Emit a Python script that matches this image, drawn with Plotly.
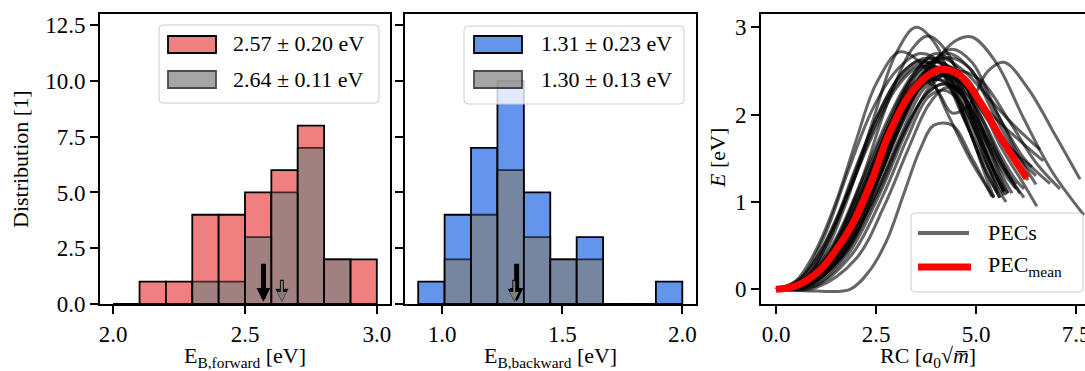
import plotly.graph_objects as go

W, H = 1085, 371

# ---------------- data ----------------
fwd_edges = [2.0, 2.1, 2.2, 2.3, 2.4, 2.5, 2.6, 2.7, 2.8, 2.9, 3.0]
fwd_counts_all = [0, 1, 1, 4, 4, 5, 6, 8, 2, 2]
fwd_counts_sub = [0, 0, 0, 1, 1, 3, 5, 7, 2, 0]

bwd_edges = [0.90, 1.01, 1.12, 1.23, 1.34, 1.45, 1.56, 1.67, 1.78, 1.89, 2.00]
bwd_counts_all = [1, 4, 7, 10, 5, 2, 3, 0, 0, 1]
bwd_counts_sub = [0, 2, 4, 6, 3, 2, 2, 0, 0, 0]

fwd_mean_all, fwd_std_all = 2.57, 0.20
fwd_mean_sub, fwd_std_sub = 2.64, 0.11
bwd_mean_all, bwd_std_all = 1.31, 0.23
bwd_mean_sub, bwd_std_sub = 1.30, 0.13

hist_yticks = [0.0, 2.5, 5.0, 7.5, 10.0, 12.5]
fwd_xticks = [2.0, 2.5, 3.0]
bwd_xticks = [1.0, 1.5, 2.0]
pec_xticks = [0.0, 2.5, 5.0, 7.5]
pec_yticks = [0, 1, 2, 3]

# potential energy curves (reaction coordinate, energy)
pec_rc = [
    [0, 0.6, 1.2, 1.8, 2.4, 3.0, 3.5, 4.0, 4.6, 5.2, 5.6],
    [0, 0.7, 1.4, 2.1, 2.8, 3.4, 3.8, 4.3, 4.9, 5.4, 5.75],
    [0, 0.5, 1.0, 1.5, 2.0, 2.5, 3.1, 3.7, 4.3, 4.9, 5.45],
    [0, 0.8, 1.6, 2.4, 3.2, 3.9, 4.5, 4.9, 5.5, 6.2, 6.9, 7.7],
    [0, 0.8, 1.6, 2.4, 3.1, 3.6, 4.0, 4.4, 4.8, 5.3, 5.7, 6.3, 7.0, 7.6],
    [0, 1.0, 1.85, 2.35, 2.77, 3.2, 3.6, 3.95, 4.4, 4.9, 5.4],
    [0, 0.7, 1.4, 2.1, 2.8, 3.4, 3.9, 4.4, 5.0, 5.5, 5.75],
    [0, 0.8, 1.5, 2.2, 2.9, 3.5, 4.0, 4.5, 5.1, 5.6, 5.8],
    [0, 0.7, 1.3, 1.9, 2.5, 3.1, 3.7, 4.2, 4.8, 5.3, 5.6],
    [0, 0.8, 1.6, 2.4, 3.1, 3.7, 4.2, 4.7, 5.3, 5.9, 6.2],
    [0, 0.6, 1.2, 1.8, 2.4, 3.0, 3.6, 4.1, 4.7, 5.3, 5.7],
    [0, 0.9, 1.7, 2.5, 3.2, 3.8, 4.3, 4.9, 5.6, 6.2, 6.52],
    [0, 0.8, 1.5, 2.2, 2.9, 3.5, 4.1, 4.7, 5.3, 5.9, 6.6],
    [0, 0.9, 1.7, 2.5, 3.2, 3.8, 4.3, 4.9, 5.5, 6.1, 6.68],
    [0, 0.8, 1.6, 2.4, 3.1, 3.7, 4.3, 4.9, 5.6, 6.2, 6.85],
    [0, 1.0, 1.8, 2.6, 3.3, 3.9, 4.5, 5.1, 5.8, 6.5, 7.1],
    [0, 0.7, 1.4, 2.1, 2.8, 3.4, 4.0, 4.6, 5.2, 5.8, 6.3],
    [0, 0.8, 1.6, 2.3, 3.0, 3.6, 4.1, 4.6, 5.2, 5.6, 6.0],
    [0, 0.9, 1.8, 2.6, 3.2, 3.7, 4.1, 4.5, 4.9, 5.2, 5.45],
    [0, 0.7, 1.3, 1.9, 2.5, 3.1, 3.6, 4.1, 4.7, 5.3, 5.7],
    [0, 0.8, 1.7, 2.6, 3.3, 3.9, 4.3, 4.8, 5.3, 5.8, 6.1],
    [0, 0.5, 1.0, 1.5, 2.0, 2.6, 3.2, 3.8, 4.4, 5.0, 5.5, 5.7],
    [0, 1.0, 2.0, 2.7, 3.3, 3.8, 4.2, 4.6, 5.1, 5.6, 6.0, 6.2],
    [0, 0.9, 1.7, 2.4, 3.0, 3.6, 4.2, 4.8, 5.4, 6.0, 6.5],
    [0, 0.7, 1.5, 2.3, 3.0, 3.6, 4.0, 4.5, 5.1, 5.5, 5.8],
    [0, 0.6, 1.2, 1.8, 2.4, 3.0, 3.6, 4.2, 4.8, 5.3, 5.55],
    [0, 0.9, 1.8, 2.6, 3.3, 3.9, 4.4, 4.9, 5.5, 6.1, 6.5],
    [0, 0.8, 1.6, 2.4, 3.1, 3.7, 4.2, 4.7, 5.2, 5.6, 5.9],
    [0, 0.7, 1.4, 2.1, 2.8, 3.4, 3.9, 4.4, 5.0, 5.6, 6.0],
    [0, 0.8, 1.6, 2.3, 3.0, 3.6, 4.1, 4.6, 5.3, 5.9, 6.4],
    [0, 1.0, 1.9, 2.7, 3.3, 3.8, 4.2, 4.6, 5.0, 5.4, 5.7],
    [0, 0.6, 1.3, 2.0, 2.7, 3.3, 3.9, 4.5, 5.1, 5.6, 5.9],
    [0, 0.8, 1.6, 2.4, 3.1, 3.7, 4.2, 4.8, 5.4, 6.0, 6.3],
]
pec_e = [
    [0, 0.08, 0.40, 1.05, 1.90, 2.70, 3.00, 2.80, 2.10, 1.40, 1.05],
    [0, 0.08, 0.45, 1.20, 2.15, 2.75, 2.90, 2.70, 2.00, 1.40, 1.08],
    [0, 0.10, 0.45, 1.00, 1.70, 2.35, 2.72, 2.55, 2.00, 1.45, 1.05],
    [0, 0.06, 0.40, 1.10, 1.95, 2.55, 2.85, 2.89, 2.60, 1.95, 1.35, 0.85],
    [0, 0.08, 0.50, 1.30, 2.10, 2.40, 2.30, 2.02, 2.10, 2.50, 2.60, 2.30, 1.75, 1.26],
    [0, -0.02, 0.00, 0.22, 0.56, 1.10, 1.60, 1.88, 1.88, 1.50, 1.06],
    [0, 0.10, 0.50, 1.20, 1.95, 2.45, 2.65, 2.50, 1.80, 1.20, 1.00],
    [0, 0.07, 0.45, 1.15, 1.95, 2.50, 2.70, 2.55, 1.90, 1.30, 1.10],
    [0, 0.12, 0.55, 1.20, 1.90, 2.40, 2.60, 2.45, 1.85, 1.30, 1.05],
    [0, 0.05, 0.35, 1.00, 1.75, 2.30, 2.45, 2.30, 1.75, 1.25, 1.05],
    [0, 0.12, 0.60, 1.35, 2.05, 2.50, 2.70, 2.60, 2.10, 1.50, 1.12],
    [0, 0.06, 0.45, 1.25, 2.00, 2.45, 2.55, 2.30, 1.65, 1.20, 0.95],
    [0, 0.10, 0.50, 1.20, 1.95, 2.45, 2.65, 2.50, 2.20, 1.90, 1.60],
    [0, 0.08, 0.50, 1.30, 2.00, 2.40, 2.45, 2.25, 1.95, 1.70, 1.47],
    [0, 0.07, 0.45, 1.20, 1.95, 2.50, 2.70, 2.50, 1.95, 1.50, 1.21],
    [0, 0.05, 0.40, 1.10, 1.85, 2.35, 2.50, 2.40, 1.95, 1.45, 1.15],
    [0, 0.08, 0.45, 1.10, 1.85, 2.35, 2.55, 2.40, 2.00, 1.60, 1.30],
    [0, 0.08, 0.50, 1.20, 1.90, 2.35, 2.40, 2.25, 1.80, 1.45, 1.20],
    [0, 0.05, 0.45, 1.30, 2.00, 2.35, 2.40, 2.20, 1.75, 1.35, 1.05],
    [0, 0.10, 0.55, 1.25, 1.95, 2.45, 2.62, 2.50, 1.95, 1.40, 1.08],
    [0, 0.05, 0.40, 1.15, 1.90, 2.30, 2.35, 2.15, 1.70, 1.30, 1.10],
    [0, 0.08, 0.35, 0.80, 1.40, 2.05, 2.50, 2.65, 2.45, 1.85, 1.30, 1.12],
    [0, 0.02, 0.35, 0.95, 1.60, 2.10, 2.30, 2.30, 2.00, 1.55, 1.25, 1.15],
    [0, 0.10, 0.55, 1.25, 1.90, 2.40, 2.65, 2.55, 2.05, 1.55, 1.30],
    [0, 0.06, 0.40, 1.10, 1.85, 2.35, 2.50, 2.35, 1.80, 1.35, 1.10],
    [0, 0.10, 0.50, 1.10, 1.75, 2.30, 2.55, 2.45, 1.95, 1.40, 1.10],
    [0, 0.07, 0.50, 1.30, 2.10, 2.60, 2.75, 2.60, 2.05, 1.50, 1.20],
    [0, 0.05, 0.35, 1.00, 1.70, 2.20, 2.35, 2.20, 1.75, 1.35, 1.10],
    [0, 0.07, 0.42, 1.05, 1.80, 2.30, 2.50, 2.38, 1.90, 1.40, 1.15],
    [0, 0.09, 0.50, 1.15, 1.85, 2.30, 2.45, 2.38, 1.95, 1.60, 1.40],
    [0, 0.04, 0.40, 1.10, 1.75, 2.20, 2.28, 2.15, 1.80, 1.40, 1.12],
    [0, 0.06, 0.40, 1.05, 1.80, 2.35, 2.60, 2.50, 2.00, 1.50, 1.25],
    [0, 0.06, 0.42, 1.10, 1.85, 2.40, 2.55, 2.40, 1.90, 1.45, 1.25],
]
mean_rc = [0, 0.5, 1.1, 1.5, 1.93, 2.4, 2.8, 3.3, 3.8, 4.15, 4.6, 5.1, 5.6, 6.27]
mean_e = [0, 0.04, 0.22, 0.45, 0.76, 1.25, 1.75, 2.2, 2.45, 2.52, 2.45, 2.15, 1.75, 1.27]

# ---------------- styles ----------------
FONT = "Liberation Serif"
FS = 22
TFS = 23
RED = "#F08080"
BLUE = "#6495ED"
GRAY = "rgb(128,128,128)"
LW = 1.8


def X(p):
    return p / W


def Y(p):
    return 1 - p / H


def centers(edges):
    return [(a + b) / 2 for a, b in zip(edges[:-1], edges[1:])]


def widths(edges):
    return [b - a for a, b in zip(edges[:-1], edges[1:])]


def label(m, s):
    return f"{m:.2f} ± {s:.2f} eV"


fig = go.Figure()

# histograms
for edges, counts, color, opac, xa, ya in [
    (fwd_edges, fwd_counts_all, RED, 1.0, "x", "y"),
    (fwd_edges, fwd_counts_sub, GRAY, 0.7, "x", "y"),
    (bwd_edges, bwd_counts_all, BLUE, 1.0, "x2", "y2"),
    (bwd_edges, bwd_counts_sub, GRAY, 0.7, "x2", "y2"),
]:
    fig.add_trace(go.Bar(
        x=centers(edges), y=counts, width=widths(edges),
        marker=dict(color=color, opacity=opac, line=dict(color="black", width=LW)),
        xaxis=xa, yaxis=ya, showlegend=False,
    ))

# PECs
for i, (rc, e) in enumerate(zip(pec_rc, pec_e)):
    fig.add_trace(go.Scatter(
        x=rc, y=e, mode="lines", name="PECs", showlegend=False,
        line=dict(color="rgba(0,0,0,0.6)", width=3, shape="spline", smoothing=1.0),
        xaxis="x3", yaxis="y3",
    ))
fig.add_trace(go.Scatter(
    x=mean_rc, y=mean_e, mode="lines", name="PEC mean", showlegend=False,
    line=dict(color="red", width=7, shape="spline", smoothing=1.0),
    xaxis="x3", yaxis="y3",
))

ax_common = dict(showline=True, linecolor="black", linewidth=LW, ticks="outside",
                 ticklen=8, tickwidth=LW, tickcolor="black", showgrid=False,
                 zeroline=False, automargin=False, ticklabeloverflow="allow",
                 tickfont=dict(family=FONT, size=TFS, color="black"))
ydom = [Y(304), Y(14)]

fig.update_layout(
    width=W, height=H, margin=dict(l=0, r=0, t=0, b=0, autoexpand=False),
    paper_bgcolor="white", plot_bgcolor="white", barmode="overlay",
    font=dict(family=FONT, size=FS, color="black"), showlegend=False,
    xaxis=dict(ax_common, domain=[X(100), X(390)], range=[1.95, 3.05], anchor="y",
               tickvals=fwd_xticks, tickformat=".1f", mirror=True),
    yaxis=dict(ax_common, domain=ydom, range=[0, 13], anchor="x",
               tickvals=hist_yticks, tickformat=".1f", mirror=True),
    xaxis2=dict(ax_common, domain=[X(405), X(696)], range=[0.845, 2.057], anchor="y2",
                tickvals=bwd_xticks, tickformat=".1f", mirror=True),
    yaxis2=dict(ax_common, domain=ydom, range=[0, 13], anchor="x2", matches="y",
                tickvals=hist_yticks, showticklabels=False, mirror=True),
    xaxis3=dict(ax_common, domain=[X(761), 1.0], range=[-0.375, 7.725], anchor="y3",
                tickvals=pec_xticks, tickformat=".1f", mirror=True),
    yaxis3=dict(ax_common, domain=ydom, range=[-0.168, 3.153], anchor="x3",
                tickvals=pec_yticks, tickformat="d", mirror=False),
)

annotations = []
shapes = []


def arrow(xv, y0, y1, xa, ya, color, width, size):
    return dict(x=xv, y=y1, ax=xv, ay=y0, xref=xa, yref=ya, axref=xa, ayref=ya,
                showarrow=True, arrowhead=2, arrowwidth=width, arrowsize=size,
                arrowcolor=color, text="")


for m_all, m_sub, xa, ya in [(fwd_mean_all, fwd_mean_sub, "x", "y"),
                             (bwd_mean_all, bwd_mean_sub, "x2", "y2")]:
    annotations.append(arrow(m_all, 1.87, 0.10, xa, ya, "black", 5, 0.55))
    annotations.append(arrow(m_sub, 1.15, 0.10, xa, ya, "rgba(0,0,0,0.85)", 4, 0.65))
    annotations.append(arrow(m_sub, 1.10, 0.14, xa, ya, "rgb(125,125,125)", 2, 0.9))


def rbox(x0, y0, x1, y1, r=4):
    p = (f"M {X(x0 + r)},{Y(y0)} L {X(x1 - r)},{Y(y0)} Q {X(x1)},{Y(y0)} {X(x1)},{Y(y0 + r)} "
         f"L {X(x1)},{Y(y1 - r)} Q {X(x1)},{Y(y1)} {X(x1 - r)},{Y(y1)} "
         f"L {X(x0 + r)},{Y(y1)} Q {X(x0)},{Y(y1)} {X(x0)},{Y(y1 - r)} "
         f"L {X(x0)},{Y(y0 + r)} Q {X(x0)},{Y(y0)} {X(x0 + r)},{Y(y0)} Z")
    return dict(type="path", path=p, xref="paper", yref="paper",
                fillcolor="rgba(255,255,255,0.8)",
                line=dict(color="rgb(204,204,204)", width=1), layer="above")


def patch(x0, y0, x1, y1, color, opac):
    return dict(type="rect", x0=X(x0), x1=X(x1), y0=Y(y1), y1=Y(y0), xref="paper", yref="paper",
                fillcolor=color, opacity=opac, line=dict(color="black", width=LW), layer="above")


def text(x, y, s, anchor="left", angle=0):
    return dict(x=X(x), y=Y(y), xref="paper", yref="paper", text=s, showarrow=False,
                xanchor=anchor, yanchor="middle", textangle=angle,
                font=dict(family=FONT, size=FS, color="black"))


# legend 1
shapes.append(rbox(159, 25, 379, 103))
shapes.append(patch(168, 36, 216, 53, RED, 1.0))
shapes.append(patch(168, 71, 216, 88, GRAY, 0.7))
annotations.append(text(231, 44, label(fwd_mean_all, fwd_std_all)))
annotations.append(text(231, 79, label(fwd_mean_sub, fwd_std_sub)))
# legend 2
shapes.append(rbox(464, 26, 684, 104))
shapes.append(patch(474, 36, 522, 53, BLUE, 1.0))
shapes.append(patch(474, 71, 522, 88, GRAY, 0.7))
annotations.append(text(539, 44, label(bwd_mean_all, bwd_std_all)))
annotations.append(text(539, 79, label(bwd_mean_sub, bwd_std_sub)))
# legend 3
shapes.append(rbox(911, 213, 1083, 292))
shapes.append(dict(type="line", x0=X(918), x1=X(969), y0=Y(233), y1=Y(233), xref="paper",
                   yref="paper", line=dict(color="rgba(0,0,0,0.6)", width=4), layer="above"))
shapes.append(dict(type="line", x0=X(918), x1=X(971), y0=Y(267), y1=Y(267), xref="paper",
                   yref="paper", line=dict(color="red", width=7), layer="above"))
annotations.append(text(986, 232, "PECs"))
annotations.append(text(986, 266, "PEC<sub>mean</sub>"))

# axis titles
annotations.append(text(20, 159, "Distribution [1]", "center", -90))
annotations.append(text(245, 357, "E<sub>B,forward</sub> [eV]", "center"))
annotations.append(text(550, 357, "E<sub>B,backward</sub> [eV]", "center"))
annotations.append(text(717, 158, "<i>E</i> [eV]", "center", -90))
annotations.append(text(928, 357, "RC [<i>a</i><sub>0</sub>√<i>m\u0305</i>]", "center"))

fig.update_layout(annotations=annotations, shapes=shapes)
fig.write_html("out.html")
